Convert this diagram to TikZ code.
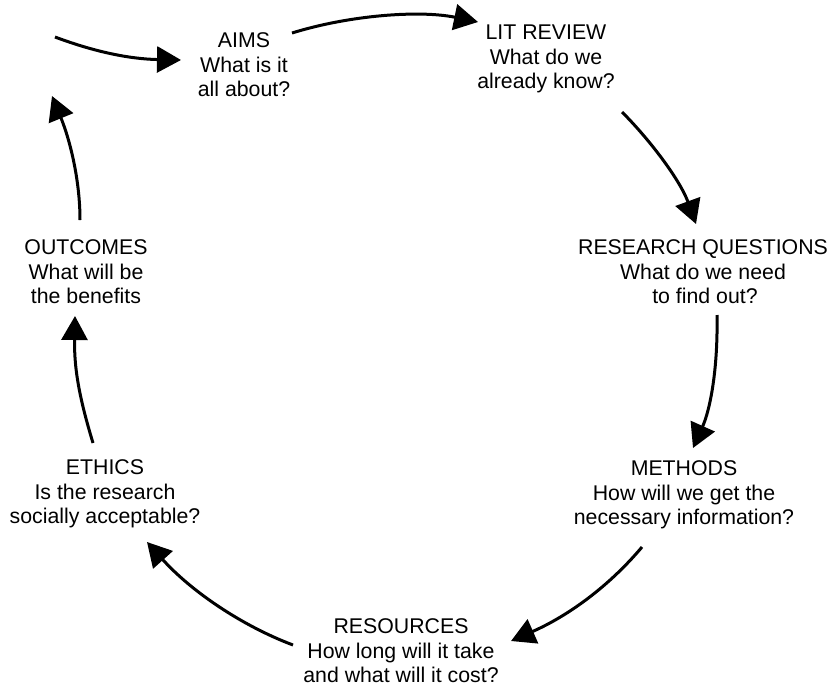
\documentclass[tikz,border=0pt]{standalone}
\usepackage{fontspec}
\setmainfont{Liberation Sans}
\usetikzlibrary{arrows.meta}
\tikzset{
  stage/.style={align=center, inner sep=0pt, font=\fontsize{21.3pt}{24.6pt}\selectfont},
  flow/.style={line width=3pt, -{Triangle[length=24pt,width=26pt]}}
}
\begin{document}
\begin{tikzpicture}[x=1pt,y=-1pt]
\useasboundingbox (0,0) rectangle (829,686);
\node[stage] (aims) at (244,65) {AIMS\\What is it\\all about?};
\node[stage] (lit) at (546,59) {LIT REVIEW\\What do we\\already know?};
\node[stage] (rq) at (703,272) {RESEARCH QUESTIONS\\What do we need\hspace*{7pt}\\\hspace*{4pt}to find out?};
\node[stage] (meth) at (684,495) {METHODS\\How will we get the\\necessary information?};
\node[stage] (res) at (401,651) {RESOURCES\\How long will it take\\and what will it cost?};
\node[stage] (eth) at (105,494) {ETHICS\\Is the research\\socially acceptable?};
\node[stage] (out) at (86,272) {OUTCOMES\\What will be\\the benefits};
% connector end points
\coordinate (start) at (55,37);
\coordinate (aimsW) at (181,60);
\coordinate (aimsE) at (292,33);
\coordinate (litW) at (478,22);
\coordinate (litS) at (622,112);
\coordinate (rqN) at (696,224);
\coordinate (rqS) at (717,315);
\coordinate (methN) at (693,448);
\coordinate (methS) at (642,547);
\coordinate (resE) at (511,641);
\coordinate (resW) at (293,645);
\coordinate (ethE) at (147,542);
\coordinate (ethN) at (93,443);
\coordinate (outS) at (75,316);
\coordinate (outN) at (80,220);
\coordinate (topL) at (52,96);
\draw[flow] (start) .. controls (95,52) and (130,59) .. (aimsW);
\draw[flow] (aimsE) .. controls (350,15) and (420,10) .. (litW);
\draw[flow] (litS) .. controls (650,140) and (680,180) .. (rqN);
\draw[flow] (rqS) .. controls (718,370) and (710,410) .. (methN);
\draw[flow] (methS) .. controls (610,585) and (570,615) .. (resE);
\draw[flow] (resW) .. controls (240,625) and (190,590) .. (ethE);
\draw[flow] (ethN) .. controls (80,400) and (74,370) .. (outS);
\draw[flow] (outN) .. controls (80,180) and (70,140) .. (topL);
\end{tikzpicture}
\end{document}
